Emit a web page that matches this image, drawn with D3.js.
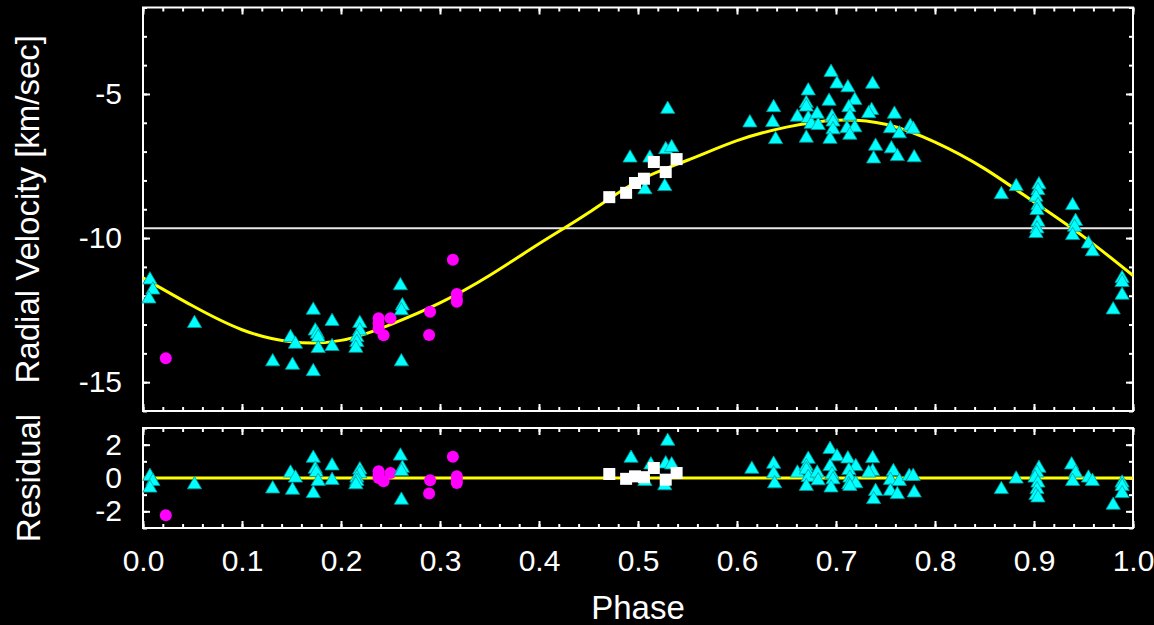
<!DOCTYPE html>
<html>
<head>
<meta charset="utf-8">
<script src="https://cdn.jsdelivr.net/npm/d3@7"></script>
<style>
  html, body { margin: 0; padding: 0; background: #000; }
  svg { display: block; }
  text { font-family: "Liberation Sans", Arial, Helvetica, sans-serif; fill: #fff; }
</style>
</head>
<body>
<svg id="chart" width="1154" height="625"></svg>
<script>
// ---- data: [phase, value] ----
const fitCurve = [
  [0.00, -11.38], [0.05, -12.35], [0.10, -13.18], [0.15, -13.60], [0.20, -13.55],
  [0.25, -13.00], [0.30, -12.25], [0.35, -11.30], [0.40, -10.20], [0.45, -9.12],
  [0.50, -8.02], [0.55, -7.30], [0.60, -6.62], [0.65, -6.15], [0.70, -5.91],
  [0.75, -6.05], [0.80, -6.67], [0.85, -7.59], [0.90, -8.75], [0.95, -9.95], [1.00, -11.30]
];
const systemicVelocity = -9.66;

const cyanRV = [
  [0.007, -11.45], [0.010, -11.80], [0.006, -12.11], [0.052, -12.96], [0.131, -14.29],
  [0.149, -13.45], [0.154, -13.68], [0.151, -14.41], [0.172, -12.50], [0.174, -13.22],
  [0.176, -13.33], [0.177, -13.45], [0.177, -13.83], [0.172, -14.63], [0.191, -12.89],
  [0.191, -13.76], [0.219, -12.96], [0.219, -13.22], [0.216, -13.45], [0.216, -13.62],
  [0.215, -13.82], [0.260, -11.65], [0.262, -12.35], [0.261, -12.52], [0.261, -14.29],
  [0.530, -5.53], [0.492, -7.22], [0.512, -7.22], [0.528, -6.93], [0.534, -6.86],
  [0.507, -8.32], [0.527, -8.21], [0.613, -6.00],
  [0.637, -5.47], [0.636, -5.99], [0.639, -6.58], [0.661, -5.80], [0.672, -4.89],
  [0.670, -5.33], [0.670, -5.45], [0.672, -5.85], [0.675, -6.05], [0.670, -6.53],
  [0.681, -5.70], [0.682, -6.09], [0.695, -4.25], [0.701, -4.65], [0.693, -5.25],
  [0.696, -5.80], [0.697, -5.97], [0.697, -6.24], [0.694, -6.57], [0.712, -4.78],
  [0.719, -5.22], [0.713, -5.47], [0.714, -5.77], [0.711, -6.20], [0.719, -6.17],
  [0.714, -6.43], [0.737, -4.66], [0.736, -5.57], [0.733, -5.68], [0.759, -5.70],
  [0.740, -6.81], [0.738, -7.25], [0.755, -6.20], [0.764, -6.38], [0.756, -6.90],
  [0.762, -7.17], [0.775, -6.12], [0.778, -6.22], [0.779, -7.21],
  [0.867, -8.49], [0.882, -8.21], [0.905, -8.15], [0.904, -8.35], [0.902, -8.58],
  [0.904, -8.87], [0.903, -9.04], [0.904, -9.45], [0.903, -9.68], [0.902, -9.84],
  [0.939, -8.87], [0.942, -9.42], [0.941, -9.62], [0.939, -9.91], [0.955, -10.20],
  [0.959, -10.47], [0.989, -11.40], [0.989, -11.54], [0.989, -11.98], [0.980, -12.49]
];
const magentaRV = [
  [0.023, -14.17], [0.238, -12.78], [0.238, -12.96], [0.238, -13.14], [0.243, -13.37],
  [0.250, -12.78], [0.290, -12.56], [0.289, -13.36], [0.313, -10.75], [0.317, -11.94],
  [0.317, -12.11], [0.317, -12.21]
];
const whiteRV = [
  [0.471, -8.58], [0.488, -8.43], [0.497, -8.09], [0.506, -7.94], [0.516, -7.36],
  [0.528, -7.71], [0.539, -7.26]
];

const cyanResid = [
  [0.007, 0.10], [0.010, -0.20], [0.007, -0.60], [0.052, -0.40], [0.131, -0.65],
  [0.149, 0.30], [0.154, 0.00], [0.151, -0.73], [0.172, 1.19], [0.174, 0.53],
  [0.175, 0.33], [0.177, -0.20], [0.172, -0.93], [0.191, 0.73], [0.191, -0.14],
  [0.219, 0.49], [0.219, 0.26], [0.216, 0.00], [0.216, -0.20], [0.215, -0.40],
  [0.260, 1.32], [0.262, 0.59], [0.261, 0.39], [0.261, -1.33],
  [0.493, 1.19], [0.530, 2.21], [0.513, 0.79], [0.528, 0.85], [0.534, 0.79],
  [0.507, -0.20], [0.527, -0.46], [0.615, 0.53],
  [0.637, 0.83], [0.637, 0.26], [0.638, -0.34], [0.661, 0.30], [0.672, 1.13],
  [0.670, 0.69], [0.670, 0.49], [0.672, 0.04], [0.670, -0.50], [0.681, 0.30],
  [0.682, -0.16], [0.694, 1.72], [0.701, 1.28], [0.694, 0.69], [0.696, 0.20],
  [0.697, -0.10], [0.695, -0.59], [0.712, 1.15], [0.720, 0.69], [0.713, 0.45],
  [0.714, 0.00], [0.713, -0.40], [0.720, -0.34], [0.714, -0.50], [0.737, 1.17],
  [0.737, 0.39], [0.733, 0.30], [0.740, -0.80], [0.738, -1.29], [0.758, 0.39],
  [0.755, -0.14], [0.764, -0.20], [0.755, -0.79], [0.762, -0.99], [0.774, 0.10],
  [0.778, 0.10], [0.779, -0.89],
  [0.867, -0.69], [0.882, -0.06], [0.905, 0.59], [0.903, 0.30], [0.901, 0.00],
  [0.904, -0.30], [0.903, -0.69], [0.902, -1.05], [0.904, -1.19],
  [0.938, 0.79], [0.942, 0.30], [0.939, -0.20], [0.955, 0.00], [0.959, -0.20],
  [0.989, -0.30], [0.989, -0.50], [0.989, -0.93], [0.980, -1.63]
];
const magentaResid = [
  [0.023, -2.24], [0.238, 0.40], [0.238, 0.20], [0.238, 0.00], [0.243, -0.20],
  [0.250, 0.30], [0.290, -0.13], [0.289, -0.93], [0.313, 1.28], [0.317, 0.10],
  [0.317, -0.10], [0.317, -0.30]
];
const whiteResid = [
  [0.471, 0.24], [0.488, -0.05], [0.497, 0.10], [0.506, 0.05], [0.516, 0.60],
  [0.528, -0.10], [0.539, 0.30]
];

const xTicks = [0, 0.1, 0.2, 0.3, 0.4, 0.5, 0.6, 0.7, 0.8, 0.9, 1.0];
const rvTicks = [-15, -10, -5];
const residTicks = [-2, 0, 2];

// ---- layout ----
const svg = d3.select("#chart");
svg.append("rect").attr("width", 1154).attr("height", 625).attr("fill", "#000");

const left = 143, right = 1133;
const mainTop = 7.5, mainBottom = 411;
const resTop = 428, resBottom = 528;

const x = d3.scaleLinear().domain([0, 1]).range([left, right]);
const yMain = d3.scaleLinear().domain([-16, -2]).range([mainBottom, mainTop]);
const yRes = d3.scaleLinear().domain([-3, 3]).range([resBottom, resTop]);

const CYAN = "#00ffff", MAGENTA = "#ff00ff", YELLOW = "#ffff00";
const tri = d3.symbol(d3.symbolTriangle, 88)();
const sq = d3.symbol(d3.symbolSquare, 144)();
// plain ASCII hyphen for negative tick labels
const intLabel = d => String(d);

function drawPanel(y, top, bottom, yMajor, yMinorStep, showX) {
  const g = svg.append("g");
  const minorX = d3.range(0, 1.0001, 0.02);
  const [y0, y1] = y.domain();
  const minorY = d3.range(Math.ceil(y0), y1 + 0.001, yMinorStep);

  const tickStyle = sel => sel.selectAll(".tick line").attr("stroke", "#fff").attr("stroke-width", 2);
  const clean = sel => sel.select(".domain").remove();

  // minor ticks on all four sides
  g.append("g").attr("transform", `translate(0,${bottom})`)
    .call(d3.axisBottom(x).tickValues(minorX).tickSize(-4).tickFormat(""))
    .call(clean).call(tickStyle);
  g.append("g").attr("transform", `translate(0,${top})`)
    .call(d3.axisTop(x).tickValues(minorX).tickSize(-4).tickFormat(""))
    .call(clean).call(tickStyle);
  g.append("g").attr("transform", `translate(${left},0)`)
    .call(d3.axisLeft(y).tickValues(minorY).tickSize(-4).tickFormat(""))
    .call(clean).call(tickStyle);
  g.append("g").attr("transform", `translate(${right},0)`)
    .call(d3.axisRight(y).tickValues(minorY).tickSize(-4).tickFormat(""))
    .call(clean).call(tickStyle);

  // major ticks
  const bx = g.append("g").attr("transform", `translate(0,${bottom})`)
    .call(d3.axisBottom(x).tickValues(xTicks).tickSize(-7).tickPadding(22)
      .tickFormat(showX ? d3.format(".1f") : ""))
    .call(clean).call(tickStyle);
  bx.selectAll("text").attr("font-size", 30).attr("fill", "#fff")
    .attr("font-family", "Liberation Sans, Arial, sans-serif");
  g.append("g").attr("transform", `translate(0,${top})`)
    .call(d3.axisTop(x).tickValues(xTicks).tickSize(-7).tickFormat(""))
    .call(clean).call(tickStyle);
  const ly = g.append("g").attr("transform", `translate(${left},0)`)
    .call(d3.axisLeft(y).tickValues(yMajor).tickSize(-7).tickPadding(21).tickFormat(intLabel))
    .call(clean).call(tickStyle);
  ly.selectAll("text").attr("font-size", 30).attr("fill", "#fff")
    .attr("font-family", "Liberation Sans, Arial, sans-serif");
  g.append("g").attr("transform", `translate(${right},0)`)
    .call(d3.axisRight(y).tickValues(yMajor).tickSize(-7).tickFormat(""))
    .call(clean).call(tickStyle);

  // frame
  g.append("rect").attr("x", left).attr("y", top)
    .attr("width", right - left).attr("height", bottom - top)
    .attr("fill", "none").attr("stroke", "#fff").attr("stroke-width", 2);
}

function drawMarkers(data, y, kind) {
  const g = svg.append("g");
  if (kind === "circle") {
    g.selectAll("circle").data(data).join("circle")
      .attr("cx", d => x(d[0])).attr("cy", d => y(d[1])).attr("r", 6)
      .attr("fill", MAGENTA);
  } else if (kind === "triangle") {
    g.selectAll("path").data(data).join("path")
      .attr("d", tri)
      .attr("transform", d => `translate(${x(d[0])},${y(d[1])})`)
      .attr("fill", CYAN).attr("stroke", "#009a9a").attr("stroke-width", 0.8);
  } else {
    g.selectAll("path").data(data).join("path")
      .attr("d", sq)
      .attr("transform", d => `translate(${x(d[0])},${y(d[1])})`)
      .attr("fill", "#fff");
  }
}

// ---- radial velocity panel ----
drawPanel(yMain, mainTop, mainBottom, rvTicks, 1, false);

svg.append("line")
  .attr("x1", left).attr("x2", right)
  .attr("y1", yMain(systemicVelocity)).attr("y2", yMain(systemicVelocity))
  .attr("stroke", "#e8e8e8").attr("stroke-width", 2);

svg.append("path").datum(fitCurve)
  .attr("d", d3.line().x(d => x(d[0])).y(d => yMain(d[1])).curve(d3.curveNatural))
  .attr("fill", "none").attr("stroke", YELLOW).attr("stroke-width", 3);

drawMarkers(magentaRV, yMain, "circle");
drawMarkers(cyanRV, yMain, "triangle");
drawMarkers(whiteRV, yMain, "square");

// ---- residual panel ----
drawPanel(yRes, resTop, resBottom, residTicks, 1, true);

svg.append("line")
  .attr("x1", left).attr("x2", right)
  .attr("y1", yRes(0)).attr("y2", yRes(0))
  .attr("stroke", YELLOW).attr("stroke-width", 3);

drawMarkers(magentaResid, yRes, "circle");
drawMarkers(cyanResid, yRes, "triangle");
drawMarkers(whiteResid, yRes, "square");

// ---- axis titles ----
svg.append("text")
  .attr("transform", `translate(39,${(mainTop + mainBottom) / 2}) rotate(-90)`)
  .attr("text-anchor", "middle").attr("font-size", 33)
  .text("Radial Velocity [km/sec]");
svg.append("text")
  .attr("transform", `translate(40,${(resTop + resBottom) / 2}) rotate(-90)`)
  .attr("text-anchor", "middle").attr("font-size", 33)
  .text("Residual");
svg.append("text")
  .attr("x", (left + right) / 2).attr("y", 619)
  .attr("text-anchor", "middle").attr("font-size", 33)
  .text("Phase");
</script>
</body>
</html>
